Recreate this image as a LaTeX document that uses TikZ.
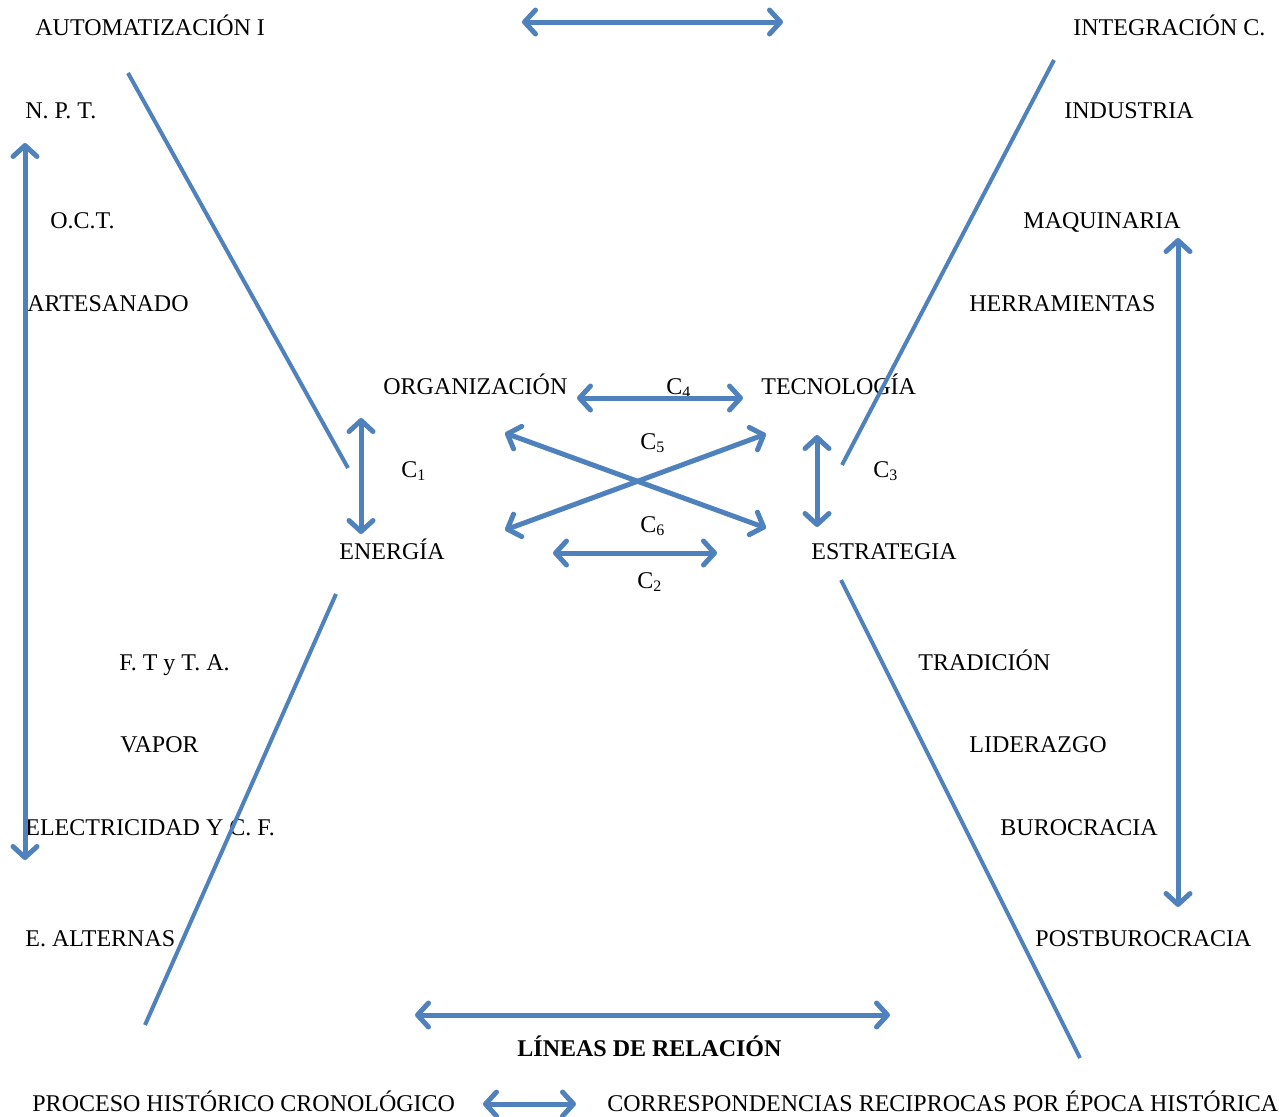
\documentclass[tikz,border=0pt]{standalone}
\usepackage{fontspec}
\setmainfont{Liberation Serif}
\usetikzlibrary{arrows.meta}
\definecolor{relblue}{HTML}{4F81BD}

\begin{document}
\begin{tikzpicture}[x=0.5pt, y=-0.5pt,
    txt/.style={anchor=base west, inner sep=0pt, font=\fontsize{12}{14}\selectfont},
    barb/.tip={Straight Barb[length=5.5pt, width=12pt, line cap=round, line join=round]},
    rel/.style={draw=relblue, line width=2.5pt, barb-barb},
    cut/.style={draw=relblue, line width=2pt}]

        \useasboundingbox (0,0) rectangle (1279,1116);

        %% Upper left
        \node (automatizacion) [txt] at (35,35) {AUTOMATIZACIÓN I};
        \node (npt) [txt] at (25,118) {N. P. T.};
        \node (oct) [txt] at (50,228) {O.C.T.};
        \node (artesanado) [txt] at (27,311) {ARTESANADO};

        %% Upper right
        \node (integracion) [txt] at (1073,35) {INTEGRACIÓN C.};
        \node (industria) [txt] at (1064,118) {INDUSTRIA};
        \node (maquinaria) [txt] at (1023,228) {MAQUINARIA};
        \node (herramientas) [txt] at (969,311) {HERRAMIENTAS};

        %% Center
        \node (organizacion) [txt] at (383,394) {ORGANIZACIÓN};
        \node (tecnologia) [txt] at (761,394) {TECNOLOGÍA};
        \node (energia) [txt] at (339,559) {ENERGÍA};
        \node (estrategia) [txt] at (811,559) {ESTRATEGIA};

        \node (cfour) [txt] at (666,394) {C\textsubscript{4}};
        \node (cfive) [txt] at (640,449) {C\textsubscript{5}};
        \node (cone) [txt] at (401,477) {C\textsubscript{1}};
        \node (cthree) [txt] at (873,477) {C\textsubscript{3}};
        \node (csix) [txt] at (640,532) {C\textsubscript{6}};
        \node (ctwo) [txt] at (637,588) {C\textsubscript{2}};

        %% Lower left
        \node (ftta) [txt] at (119,670) {F. T y T. A.};
        \node (vapor) [txt] at (120,752) {VAPOR};
        \node (electricidad) [txt] at (25,835) {ELECTRICIDAD Y C. F.};
        \node (alternas) [txt] at (25,946) {E. ALTERNAS};

        %% Lower right
        \node (tradicion) [txt] at (918,670) {TRADICIÓN};
        \node (liderazgo) [txt] at (969,752) {LIDERAZGO};
        \node (burocracia) [txt] at (1000,835) {BUROCRACIA};
        \node (postburocracia) [txt] at (1035,946) {POSTBUROCRACIA};

        %% Legend
        \node (lineas) [txt, font=\fontsize{12}{14}\selectfont\bfseries] at (517,1056) {LÍNEAS DE RELACIÓN};
        \node (proceso) [txt] at (32,1111) {PROCESO HISTÓRICO CRONOLÓGICO};
        \node (correspondencias) [txt] at (607,1111) {CORRESPONDENCIAS RECIPROCAS POR ÉPOCA HISTÓRICA};

        %% Dividing lines
        \coordinate (ulA) at (128,73);   \coordinate (ulB) at (348,468);
        \coordinate (urA) at (1054,60);  \coordinate (urB) at (842,465);
        \coordinate (llA) at (336,594);  \coordinate (llB) at (145,1025);
        \coordinate (lrA) at (841,580);  \coordinate (lrB) at (1080,1058);
        \draw [cut] (ulA) -- (ulB);
        \draw [cut] (urA) -- (urB);
        \draw [cut] (llA) -- (llB);
        \draw [cut] (lrA) -- (lrB);

        %% Chronological arrows
        \coordinate (leftTop) at (25,143);    \coordinate (leftBot) at (25,860);
        \coordinate (rightTop) at (1178,238); \coordinate (rightBot) at (1178,907);
        \coordinate (topL) at (522,22);       \coordinate (topR) at (783,22);
        \draw [rel] (leftTop) -- (leftBot);
        \draw [rel] (rightTop) -- (rightBot);
        \draw [rel] (topL) -- (topR);

        %% Relations
        \coordinate (orgR) at (577,398);  \coordinate (tecL) at (743,398);
        \coordinate (eneR) at (553,553);  \coordinate (estL) at (717,553);
        \coordinate (eneT) at (361,418);  \coordinate (eneB) at (361,534);
        \coordinate (tecB) at (817,435);  \coordinate (estT) at (817,527);
        \coordinate (xUL) at (505,433);   \coordinate (xLR) at (766,528);
        \coordinate (xLL) at (505,530);   \coordinate (xUR) at (766,434);
        \draw [rel] (orgR) -- (tecL);
        \draw [rel] (eneR) -- (estL);
        \draw [rel] (eneT) -- (eneB);
        \draw [rel] (tecB) -- (estT);
        \draw [rel] (xUL) -- (xLR);
        \draw [rel] (xLL) -- (xUR);

        %% Legend arrows
        \coordinate (linL) at (415,1015); \coordinate (linR) at (890,1015);
        \coordinate (legL) at (483,1104); \coordinate (legR) at (576,1104);
        \draw [rel] (linL) -- (linR);
        \draw [rel] (legL) -- (legR);

    \end{tikzpicture}
\end{document}
